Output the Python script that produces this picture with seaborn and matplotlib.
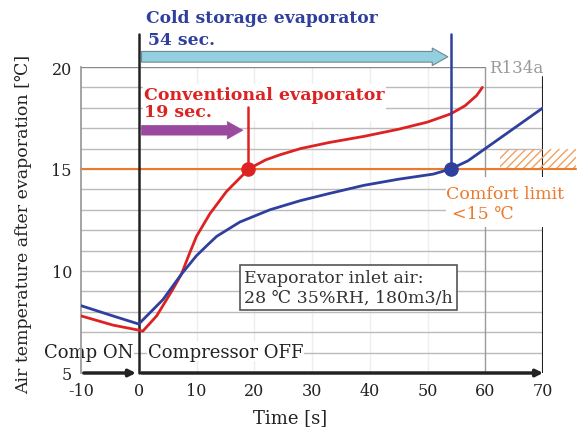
import matplotlib

matplotlib.use("Agg")

import matplotlib.pyplot as plt
import numpy as np
import pandas as pd
import seaborn as sns
from matplotlib.patches import Rectangle

# Conventional evaporator (red)
conv_time = [-10, -4.5, 0, 0.7, 3.1, 5.9, 7.4, 8.7, 10, 12.3, 15.2, 18, 19, 22, 24.5,
             28, 33, 39, 45, 50, 54, 56.5, 58.5, 59.5]
conv_temp = [7.8, 7.35, 7.1, 7.05, 7.8, 9.1, 9.85, 10.8, 11.7, 12.8, 13.9, 14.7, 15.0,
             15.45, 15.7, 16.0, 16.3, 16.6, 16.95, 17.3, 17.7, 18.1, 18.6, 19.0]

# Cold storage evaporator (blue)
cold_time = [-10, -4.5, 0, 4.2, 7.4, 10, 12, 13.5, 17.5, 22.7, 28, 33, 39, 45,
             51, 54, 57, 60, 62.5, 65.5, 68, 70.5]
cold_temp = [8.3, 7.8, 7.4, 8.6, 9.85, 10.75, 11.3, 11.7, 12.4, 13.0, 13.45,
             13.8, 14.2, 14.5, 14.75, 15.0, 15.4, 16.0, 16.5, 17.1, 17.6, 18.1]

x_ticks = [-10, 0, 10, 20, 30, 40, 50, 60, 70]
y_ticks = [5, 10, 15, 20]
comfort_limit = 15
conv_reach = 19
cold_reach = 54

RED = "#dd2222"
BLUE = "#2e3f9e"
ORANGE = "#ec7a2c"
SERIF = ["DejaVu Serif", "DejaVu Sans"]

sns.set_theme(style="white")
plt.rcParams["font.family"] = SERIF
plt.rcParams["axes.unicode_minus"] = False

fig = plt.figure(figsize=(5.79, 4.39), dpi=100)
ax = fig.add_axes([81 / 579, 65 / 439, 462 / 579, 306 / 439])

df = pd.concat([
    pd.DataFrame({"time": conv_time, "temp": conv_temp, "kind": "conv"}),
    pd.DataFrame({"time": cold_time, "temp": cold_temp, "kind": "cold"}),
])
sns.lineplot(data=df, x="time", y="temp", hue="kind", palette={"conv": RED, "cold": BLUE},
             lw=2, legend=False, ax=ax, zorder=4, sort=False)
for ln in ax.lines:
    ln.set_solid_joinstyle("round")

ax.set_xlim(-10, 70)
ax.set_ylim(5, 20)
ax.set_xticks(x_ticks)
ax.set_yticks(y_ticks)
ax.tick_params(labelsize=11.5, length=3, colors="#222222")
ax.set_xlabel("")
ax.set_ylabel("")
for s in ["top", "right"]:
    ax.spines[s].set_visible(False)
ax.spines["left"].set_color("#999999")
ax.spines["bottom"].set_visible(False)

# grid
for yv in range(6, 20):
    ax.plot([-10, 70], [yv, yv], color="#bbbbbb", lw=1, zorder=0.5)
for xv in x_ticks[2:-2]:
    ax.plot([xv, xv], [5, 20], color="#eeeeee", lw=1, zorder=0.4)
ax.plot([-10, 60], [20, 20], color="#888888", lw=1, zorder=0.6)
ax.plot([60, 60], [5, 20], color="#999999", lw=1, zorder=0.6)
ax.plot([70, 70], [5, 19.5], color="#222222", lw=1.5, zorder=0.6)
ax.plot([0, 0], [5, 21.6], color="#222222", lw=1.8, zorder=3, clip_on=False)

# comfort limit
ax.plot([-10, 75.8], [comfort_limit] * 2, color=ORANGE, lw=1.5, zorder=2, clip_on=False)
ax.add_patch(Rectangle((62.5, 15.05), 13.3, 0.95, fill=False, hatch="////",
                       edgecolor="#f0a060", lw=0, clip_on=False, zorder=1.5))
ax.add_patch(Rectangle((53.2, 12.15), 23, 2.45, facecolor="white", edgecolor="none",
                       clip_on=False, zorder=1.2))
ax.text(53.2, 13.8, "Comfort limit", color=ORANGE, fontsize=12.5, va="center", zorder=5,
        clip_on=False)
ax.text(54.2, 12.8, "<15 ℃", color=ORANGE, fontsize=12.5, va="center", zorder=5,
        clip_on=False)

# bottom axis with arrows
ax.annotate("", xy=(70.5, 5), xytext=(0, 5), annotation_clip=False,
            arrowprops=dict(arrowstyle="-|>", color="#222222", lw=2.5, mutation_scale=10))
ax.annotate("", xy=(0, 5), xytext=(-10, 5), annotation_clip=False,
            arrowprops=dict(arrowstyle="-|>", color="#222222", lw=2.5, mutation_scale=10))

# arrows for reach time
ax.annotate("", xy=(54, 20.5), xytext=(0, 20.5), annotation_clip=False,
            arrowprops=dict(arrowstyle="simple,head_length=0.8,head_width=0.9,tail_width=0.55",
                            fc="#92d0e0", ec="#708890", lw=0.8, mutation_scale=14))
ax.annotate("", xy=(18.5, 16.9), xytext=(0, 16.9), annotation_clip=False,
            arrowprops=dict(arrowstyle="simple,head_length=0.8,head_width=0.9,tail_width=0.5",
                            fc="#9a4a9e", ec="#9a4a9e", lw=0.5, mutation_scale=14))

ax.plot([conv_reach] * 2, [comfort_limit, 18.05], color=RED, lw=1.8, zorder=4)
ax.plot([cold_reach] * 2, [comfort_limit, 21.6], color=BLUE, lw=1.8, zorder=4,
        clip_on=False)
ax.scatter([conv_reach], [comfort_limit], s=90, color=RED, zorder=6)
ax.scatter([cold_reach], [comfort_limit], s=90, color=BLUE, zorder=6)

# labels
ax.text(1.2, 22.45, "Cold storage evaporator", color=BLUE, fontsize=12.3,
        fontweight="bold", va="center", clip_on=False)
ax.text(1.6, 21.35, "54 sec.", color=BLUE, fontsize=12.3, fontweight="bold",
        va="center", clip_on=False)
ax.text(0.9, 18.25, "Conventional evaporator\n19 sec.", color=RED, fontsize=12.5,
        fontweight="bold", va="center", linespacing=1.0, zorder=1.3,
        bbox=dict(facecolor="white", edgecolor="none", pad=1))
ax.text(60.6, 20, "R134a", color="#999999", fontsize=12, va="center", clip_on=False)
ax.text(18.3, 9.2, "Evaporator inlet air:\n28 ℃ 35%RH, 180m3/h", color="#333333",
        fontsize=12.5, va="center", linespacing=1.25, zorder=1.3,
        bbox=dict(facecolor="white", edgecolor="#555555", lw=1.2, pad=3))
ax.text(-8.7, 6.05, "Comp ON", color="#222222", fontsize=13, ha="center",
        va="center", clip_on=False, zorder=1.3,
        bbox=dict(facecolor="white", edgecolor="none", pad=0.5))
ax.text(1.6, 6.05, "Compressor OFF", color="#222222", fontsize=13, va="center",
        zorder=1.3, bbox=dict(facecolor="white", edgecolor="none", pad=0.5))

fig.text(24 / 579, 1 - 224 / 439, "Air temperature after evaporation [℃]",
         rotation=90, ha="center", va="center", fontsize=12.5, color="#222222")
fig.text(290 / 579, 1 - 418 / 439, "Time [s]", ha="center", va="center",
         fontsize=13, color="#222222")

fig.savefig("out.png", dpi=100)
